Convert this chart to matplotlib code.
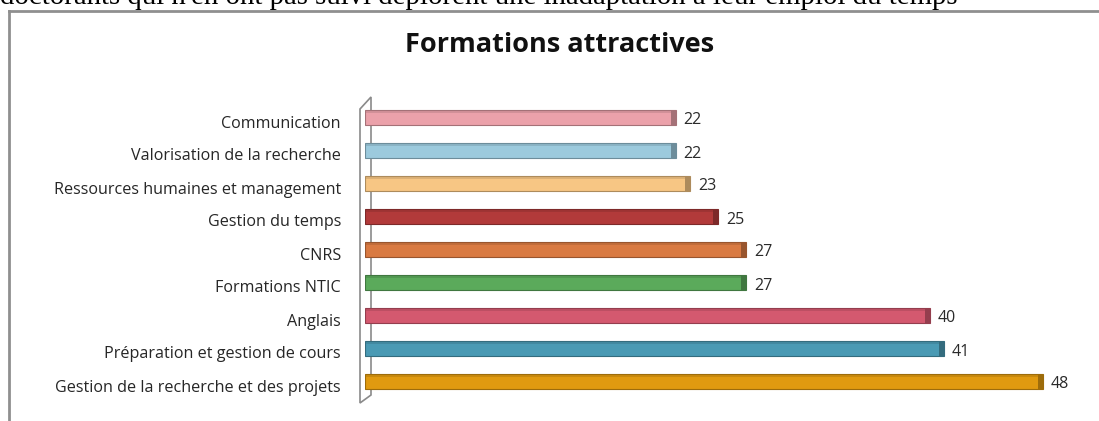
import matplotlib
matplotlib.use("Agg")
import matplotlib.pyplot as plt
from matplotlib.lines import Line2D
from matplotlib.patches import Polygon
from matplotlib.transforms import ScaledTranslation
import matplotlib.colors as mcolors

# data, bottom to top
categories = [
    "Gestion de la recherche et des projets",
    "Préparation et gestion de cours",
    "Anglais",
    "Formations NTIC",
    "CNRS",
    "Gestion du temps",
    "Ressources humaines et management",
    "Valorisation de la recherche",
    "Communication",
]
values = [48, 41, 40, 27, 27, 25, 23, 22, 22]
bar_colors = ["#E09A10", "#4A9AB4", "#D4596F", "#5BAA5B", "#D97A42",
              "#B23A3A", "#F7C684", "#9CCADD", "#EBA1AA"]

title = "Formations attractives"
top_line = "doctorants qui n'en ont pas suivi déplorent une inadaptation à leur emploi du temps"

W, H = 1099, 421
fig = plt.figure(figsize=(W / 100, H / 100), dpi=100)
fig.patch.set_facecolor("white")


def fx(px):
    return px / W


def fy(py):
    return 1 - py / H


# cut-off text line above the chart
fig.text(fx(0), fy(3.5), top_line, family="Liberation Serif", fontsize=20.8,
         va="baseline", ha="left", color="black")

# chart frame (runs off the right and bottom edges)
fig.add_artist(Line2D([fx(9), fx(9)], [fy(11), fy(H + 5)], color="#8f8f8f", lw=2))
fig.add_artist(Line2D([fx(9), fx(W + 5)], [fy(11), fy(11)], color="#8f8f8f", lw=2))

fig.text(fx(560), fy(52), title, family="Open Sans", fontweight="bold", fontsize=19.5,
         ha="center", va="baseline", color="#111111")

# the thin 3D wall behind the bars
wall = Polygon([[fx(360), fy(109)], [fx(371), fy(97)], [fx(371), fy(395)], [fx(360), fy(403)]],
               closed=True, transform=fig.transFigure, facecolor="white",
               edgecolor="#8a8a8a", lw=1.2, zorder=-1)
fig.add_artist(wall)

ax = fig.add_axes([fx(365), fy(398), fx(W - 365), (398 - 101) / H])
ax.set_xlim(0, (W - 365) / 14.12)
ax.set_ylim(-0.5, len(categories) - 0.5)
ax.patch.set_alpha(0)

lab_off = ax.transData + ScaledTranslation(-24 / 100, -6 / 100, fig.dpi_scale_trans)
val_off = ax.transData + ScaledTranslation(8 / 100, -3 / 100, fig.dpi_scale_trans)

ypos = range(len(categories))
for y, v, c, name in zip(ypos, values, bar_colors, categories):
    dark = [x * 0.7 for x in mcolors.to_rgb(c)]
    ax.barh(y, v, height=0.48, color=c, edgecolor=dark, linewidth=0.8)
    # darker end cap to give the 3D look
    ax.barh(y, 0.35, left=v - 0.35, height=0.48, color=dark, linewidth=0)
    ax.barh(y + 0.17, v, height=0.07, color=dark, alpha=0.35, linewidth=0)
    ax.text(v, y, str(v), va="center", ha="left", transform=val_off,
            family="Open Sans", fontsize=11.5, color="#2a2a2a")
    ax.text(0, y, name, va="center", ha="right", transform=lab_off,
            family="Open Sans", fontsize=11.6, color="#262626")

ax.set_yticks([])
ax.set_xticks([])
for s in ax.spines.values():
    s.set_visible(False)

fig.savefig("out.png", dpi=100)
